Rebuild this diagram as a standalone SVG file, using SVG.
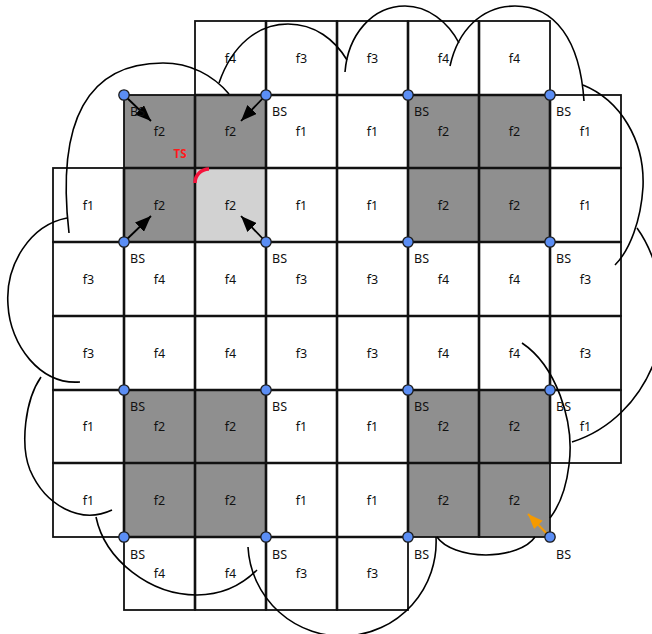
<svg xmlns="http://www.w3.org/2000/svg" width="652" height="634" viewBox="0 0 652 634">
<defs>
<style>
.c{stroke:#111;stroke-width:1.8;fill:#fff}
.d{fill:#8f8f8f}
.l{fill:#d2d2d2}
.t{font-family:"Noto Sans","DejaVu Sans",sans-serif;font-size:12.5px;fill:#111;text-anchor:middle}
.b{font-family:"Noto Sans","DejaVu Sans",sans-serif;font-size:12.5px;fill:#111}
.g line{stroke:#111;stroke-width:2.6}
.arc{fill:none;stroke:#000;stroke-width:1.6}
.n{fill:#5b8ef5;stroke:#1a1a1a;stroke-width:1.3}
.ar{stroke:#000;stroke-width:1.8}
.ao{stroke:#f59a00;stroke-width:2}
</style>
<marker id="mk" markerUnits="userSpaceOnUse" markerWidth="16" markerHeight="13" refX="16" refY="6.5" orient="auto"><path d="M0,0 L16,6.5 L0,13 z" fill="#000"/></marker>
<marker id="mo" markerUnits="userSpaceOnUse" markerWidth="15" markerHeight="12" refX="15" refY="6" orient="auto"><path d="M0,0 L15,6 L0,12 z" fill="#f59a00"/></marker>
</defs>
<g id="cells">
<g id="r0c2"><rect class="c" x="195" y="21" width="71" height="74"/><text class="t" x="230.5" y="62.5">f4</text></g>
<g id="r0c3"><rect class="c" x="266" y="21" width="71" height="74"/><text class="t" x="301.5" y="62.5">f3</text></g>
<g id="r0c4"><rect class="c" x="337" y="21" width="71" height="74"/><text class="t" x="372.5" y="62.5">f3</text></g>
<g id="r0c5"><rect class="c" x="408" y="21" width="71" height="74"/><text class="t" x="443.5" y="62.5">f4</text></g>
<g id="r0c6"><rect class="c" x="479" y="21" width="71" height="74"/><text class="t" x="514.5" y="62.5">f4</text></g>

<g id="r1c1"><rect class="c d" x="124" y="95" width="71" height="73"/><text class="t" x="159.5" y="136">f2</text></g>
<g id="r1c2"><rect class="c d" x="195" y="95" width="71" height="73"/><text class="t" x="230.5" y="136">f2</text></g>
<g id="r1c3"><rect class="c" x="266" y="95" width="71" height="73"/><text class="t" x="301.5" y="136">f1</text></g>
<g id="r1c4"><rect class="c" x="337" y="95" width="71" height="73"/><text class="t" x="372.5" y="136">f1</text></g>
<g id="r1c5"><rect class="c d" x="408" y="95" width="71" height="73"/><text class="t" x="443.5" y="136">f2</text></g>
<g id="r1c6"><rect class="c d" x="479" y="95" width="71" height="73"/><text class="t" x="514.5" y="136">f2</text></g>
<g id="r1c7"><rect class="c" x="550" y="95" width="71" height="73"/><text class="t" x="585.5" y="136">f1</text></g>

<g id="r2c0"><rect class="c" x="53" y="168" width="71" height="74"/><text class="t" x="88.5" y="209.5">f1</text></g>
<g id="r2c1"><rect class="c d" x="124" y="168" width="71" height="74"/><text class="t" x="159.5" y="209.5">f2</text></g>
<g id="r2c2"><rect class="c l" x="195" y="168" width="71" height="74"/><text class="t" x="230.5" y="209.5">f2</text></g>
<g id="r2c3"><rect class="c" x="266" y="168" width="71" height="74"/><text class="t" x="301.5" y="209.5">f1</text></g>
<g id="r2c4"><rect class="c" x="337" y="168" width="71" height="74"/><text class="t" x="372.5" y="209.5">f1</text></g>
<g id="r2c5"><rect class="c d" x="408" y="168" width="71" height="74"/><text class="t" x="443.5" y="209.5">f2</text></g>
<g id="r2c6"><rect class="c d" x="479" y="168" width="71" height="74"/><text class="t" x="514.5" y="209.5">f2</text></g>
<g id="r2c7"><rect class="c" x="550" y="168" width="71" height="74"/><text class="t" x="585.5" y="209.5">f1</text></g>

<g id="r3c0"><rect class="c" x="53" y="242" width="71" height="74"/><text class="t" x="88.5" y="283.5">f3</text></g>
<g id="r3c1"><rect class="c" x="124" y="242" width="71" height="74"/><text class="t" x="159.5" y="283.5">f4</text></g>
<g id="r3c2"><rect class="c" x="195" y="242" width="71" height="74"/><text class="t" x="230.5" y="283.5">f4</text></g>
<g id="r3c3"><rect class="c" x="266" y="242" width="71" height="74"/><text class="t" x="301.5" y="283.5">f3</text></g>
<g id="r3c4"><rect class="c" x="337" y="242" width="71" height="74"/><text class="t" x="372.5" y="283.5">f3</text></g>
<g id="r3c5"><rect class="c" x="408" y="242" width="71" height="74"/><text class="t" x="443.5" y="283.5">f4</text></g>
<g id="r3c6"><rect class="c" x="479" y="242" width="71" height="74"/><text class="t" x="514.5" y="283.5">f4</text></g>
<g id="r3c7"><rect class="c" x="550" y="242" width="71" height="74"/><text class="t" x="585.5" y="283.5">f3</text></g>

<g id="r4c0"><rect class="c" x="53" y="316" width="71" height="74"/><text class="t" x="88.5" y="357.5">f3</text></g>
<g id="r4c1"><rect class="c" x="124" y="316" width="71" height="74"/><text class="t" x="159.5" y="357.5">f4</text></g>
<g id="r4c2"><rect class="c" x="195" y="316" width="71" height="74"/><text class="t" x="230.5" y="357.5">f4</text></g>
<g id="r4c3"><rect class="c" x="266" y="316" width="71" height="74"/><text class="t" x="301.5" y="357.5">f3</text></g>
<g id="r4c4"><rect class="c" x="337" y="316" width="71" height="74"/><text class="t" x="372.5" y="357.5">f3</text></g>
<g id="r4c5"><rect class="c" x="408" y="316" width="71" height="74"/><text class="t" x="443.5" y="357.5">f4</text></g>
<g id="r4c6"><rect class="c" x="479" y="316" width="71" height="74"/><text class="t" x="514.5" y="357.5">f4</text></g>
<g id="r4c7"><rect class="c" x="550" y="316" width="71" height="74"/><text class="t" x="585.5" y="357.5">f3</text></g>

<g id="r5c0"><rect class="c" x="53" y="390" width="71" height="73"/><text class="t" x="88.5" y="431">f1</text></g>
<g id="r5c1"><rect class="c d" x="124" y="390" width="71" height="73"/><text class="t" x="159.5" y="431">f2</text></g>
<g id="r5c2"><rect class="c d" x="195" y="390" width="71" height="73"/><text class="t" x="230.5" y="431">f2</text></g>
<g id="r5c3"><rect class="c" x="266" y="390" width="71" height="73"/><text class="t" x="301.5" y="431">f1</text></g>
<g id="r5c4"><rect class="c" x="337" y="390" width="71" height="73"/><text class="t" x="372.5" y="431">f1</text></g>
<g id="r5c5"><rect class="c d" x="408" y="390" width="71" height="73"/><text class="t" x="443.5" y="431">f2</text></g>
<g id="r5c6"><rect class="c d" x="479" y="390" width="71" height="73"/><text class="t" x="514.5" y="431">f2</text></g>
<g id="r5c7"><rect class="c" x="550" y="390" width="71" height="73"/><text class="t" x="585.5" y="431">f1</text></g>

<g id="r6c0"><rect class="c" x="53" y="463" width="71" height="74"/><text class="t" x="88.5" y="504.5">f1</text></g>
<g id="r6c1"><rect class="c d" x="124" y="463" width="71" height="74"/><text class="t" x="159.5" y="504.5">f2</text></g>
<g id="r6c2"><rect class="c d" x="195" y="463" width="71" height="74"/><text class="t" x="230.5" y="504.5">f2</text></g>
<g id="r6c3"><rect class="c" x="266" y="463" width="71" height="74"/><text class="t" x="301.5" y="504.5">f1</text></g>
<g id="r6c4"><rect class="c" x="337" y="463" width="71" height="74"/><text class="t" x="372.5" y="504.5">f1</text></g>
<g id="r6c5"><rect class="c d" x="408" y="463" width="71" height="74"/><text class="t" x="443.5" y="504.5">f2</text></g>
<g id="r6c6"><rect class="c d" x="479" y="463" width="71" height="74"/><text class="t" x="514.5" y="504.5">f2</text></g>

<g id="r7c1"><rect class="c" x="124" y="537" width="71" height="73"/><text class="t" x="159.5" y="578">f4</text></g>
<g id="r7c2"><rect class="c" x="195" y="537" width="71" height="73"/><text class="t" x="230.5" y="578">f4</text></g>
<g id="r7c3"><rect class="c" x="266" y="537" width="71" height="73"/><text class="t" x="301.5" y="578">f3</text></g>
<g id="r7c4"><rect class="c" x="337" y="537" width="71" height="73"/><text class="t" x="372.5" y="578">f3</text></g>
</g>

<g id="grid" class="g">
<line x1="124" y1="168" x2="124" y2="537"/>
<line x1="195" y1="95" x2="195" y2="610"/>
<line x1="266" y1="21" x2="266" y2="610"/>
<line x1="337" y1="21" x2="337" y2="610"/>
<line x1="408" y1="21" x2="408" y2="537"/>
<line x1="479" y1="21" x2="479" y2="537"/>
<line x1="550" y1="95" x2="550" y2="463"/>
<line x1="195" y1="95" x2="550" y2="95"/>
<line x1="124" y1="168" x2="621" y2="168"/>
<line x1="53" y1="242" x2="621" y2="242"/>
<line x1="53" y1="316" x2="621" y2="316"/>
<line x1="53" y1="390" x2="621" y2="390"/>
<line x1="53" y1="463" x2="550" y2="463"/>
<line x1="124" y1="537" x2="408" y2="537"/>
</g>

<g id="coverage">
<path class="arc" d="M69,233 C56,120 88,63 163,63 C190,63 213,75 229,94"/>
<path class="arc" d="M219,83 C232,45 258,24 288,24 C315,24 335,40 347,60"/>
<path class="arc" d="M345,72 C348,35 372,6 405,6 C428,6 448,22 459,43"/>
<path class="arc" d="M450,66 C458,30 482,6 515,6 C555,6 580,40 584,101"/>
<path class="arc" d="M583,85 C620,100 645,140 643,187 C641,220 630,250 615,265"/>
<path class="arc" d="M637,228 C660,260 672,320 655,360 C640,400 610,430 572,442"/>
<path class="arc" d="M522,343 C555,365 575,420 569,465 C566,490 560,505 550,518"/>
<path class="arc" d="M437,537 A52,27 0 0 0 535,537"/>
<path class="arc" d="M436,537 A94,94 0 0 1 248,547"/>
<path class="arc" d="M96,517 C105,560 150,595 197,595 C222,595 242,585 257,570"/>
<path class="arc" d="M41,377 C25,400 20,445 30,470 C45,505 80,525 112,510"/>
<path class="arc" d="M67,218 C30,225 5,265 8,305 C10,345 40,385 80,382"/>
</g>

<g id="connectors">
<line class="ar" x1="124" y1="95" x2="151" y2="121" marker-end="url(#mk)"/>
<line class="ar" x1="266" y1="95" x2="241" y2="121" marker-end="url(#mk)"/>
<line class="ar" x1="124" y1="242" x2="151" y2="216" marker-end="url(#mk)"/>
<line class="ar" x1="266" y1="242" x2="241" y2="216" marker-end="url(#mk)"/>
<line class="ao" x1="550" y1="537" x2="528" y2="514" marker-end="url(#mo)"/>
</g>

<g id="ts">
<path d="M195,183 A14,14 0 0 1 209,169" fill="none" stroke="#f5143c" stroke-width="3.5"/>
<text x="180" y="157.5" font-family="'Noto Sans','DejaVu Sans',sans-serif" font-size="11.5" font-weight="bold" fill="#ff1a1a" text-anchor="middle">TS</text>
</g>

<g id="bs-1-1"><circle class="n" cx="124" cy="95" r="5.2"/><text class="b" x="130" y="116">BS</text></g>
<g id="bs-1-3"><circle class="n" cx="266" cy="95" r="5.2"/><text class="b" x="272" y="116">BS</text></g>
<g id="bs-1-5"><circle class="n" cx="408" cy="95" r="5.2"/><text class="b" x="414" y="116">BS</text></g>
<g id="bs-1-7"><circle class="n" cx="550" cy="95" r="5.2"/><text class="b" x="556" y="116">BS</text></g>
<g id="bs-3-1"><circle class="n" cx="124" cy="242" r="5.2"/><text class="b" x="130" y="263">BS</text></g>
<g id="bs-3-3"><circle class="n" cx="266" cy="242" r="5.2"/><text class="b" x="272" y="263">BS</text></g>
<g id="bs-3-5"><circle class="n" cx="408" cy="242" r="5.2"/><text class="b" x="414" y="263">BS</text></g>
<g id="bs-3-7"><circle class="n" cx="550" cy="242" r="5.2"/><text class="b" x="556" y="263">BS</text></g>
<g id="bs-5-1"><circle class="n" cx="124" cy="390" r="5.2"/><text class="b" x="130" y="411">BS</text></g>
<g id="bs-5-3"><circle class="n" cx="266" cy="390" r="5.2"/><text class="b" x="272" y="411">BS</text></g>
<g id="bs-5-5"><circle class="n" cx="408" cy="390" r="5.2"/><text class="b" x="414" y="411">BS</text></g>
<g id="bs-5-7"><circle class="n" cx="550" cy="390" r="5.2"/><text class="b" x="556" y="411">BS</text></g>
<g id="bs-7-1"><circle class="n" cx="124" cy="537" r="5.2"/><text class="b" x="130" y="559">BS</text></g>
<g id="bs-7-3"><circle class="n" cx="266" cy="537" r="5.2"/><text class="b" x="272" y="559">BS</text></g>
<g id="bs-7-5"><circle class="n" cx="408" cy="537" r="5.2"/><text class="b" x="414" y="559">BS</text></g>
<g id="bs-7-7"><circle class="n" cx="550" cy="537" r="5.2"/><text class="b" x="556" y="559">BS</text></g>
</svg>
